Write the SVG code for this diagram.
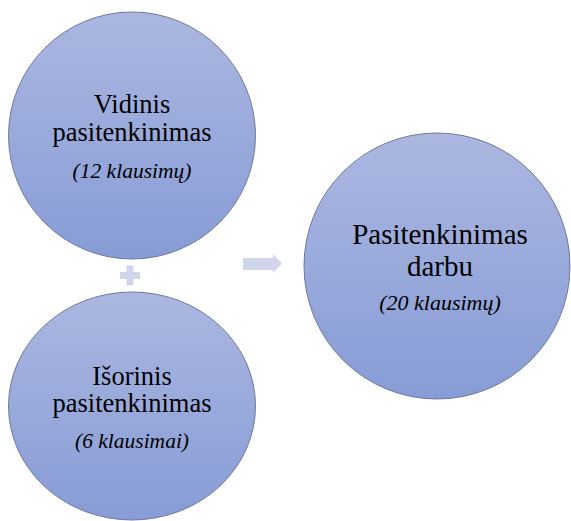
<svg xmlns="http://www.w3.org/2000/svg" width="571" height="521" viewBox="0 0 571 521">
  <defs>
    <linearGradient id="bubbleFill" x1="0" y1="0" x2="0" y2="1">
      <stop offset="0" stop-color="#abb7e0"/>
      <stop offset="1" stop-color="#879cd6"/>
    </linearGradient>
    <style>
      .bubble { fill: url(#bubbleFill); stroke: #6f7a9e; stroke-width: 1; }
      text { font-family: 'Liberation Serif', 'Times New Roman', serif; fill: #000; text-anchor: middle; }
      .title { font-size: 26.5px; }
      .big { font-size: 29px; }
      .note { font-style: italic; font-size: 21.5px; }
      .sign { fill: #d0d5eb; }
    </style>
  </defs>
  <rect width="571" height="521" fill="#ffffff"/>

  <g id="vidinis">
    <circle class="bubble" cx="132" cy="135.5" r="123.5"/>
    <text class="title" x="132" y="113">Vidinis</text>
    <text class="title" x="132" y="141">pasitenkinimas</text>
    <text class="note" x="132" y="178">(12 klausimų)</text>
  </g>

  <g id="isorinis">
    <ellipse class="bubble" cx="132" cy="406" rx="123.5" ry="114"/>
    <text class="title" x="132" y="385">Išorinis</text>
    <text class="title" x="132" y="412">pasitenkinimas</text>
    <text class="note" x="132" y="448">(6 klausimai)</text>
  </g>

  <g id="darbu">
    <circle class="bubble" cx="437" cy="266" r="133"/>
    <text class="big" x="440" y="244">Pasitenkinimas</text>
    <text class="big" x="440" y="276">darbu</text>
    <text class="note" x="440" y="310" style="font-size:22px">(20 klausimų)</text>
  </g>

  <g id="connectors">
    <path class="sign" d="M126.5 265.5 h7 v6.5 h6.5 v7 h-6.5 v6.5 h-7 v-6.5 h-6.5 v-7 h6.5 z"/>
    <polygon class="sign" points="243,258 273,258 273,254 282,263.5 273,273 273,270 243,270"/>
  </g>
</svg>
